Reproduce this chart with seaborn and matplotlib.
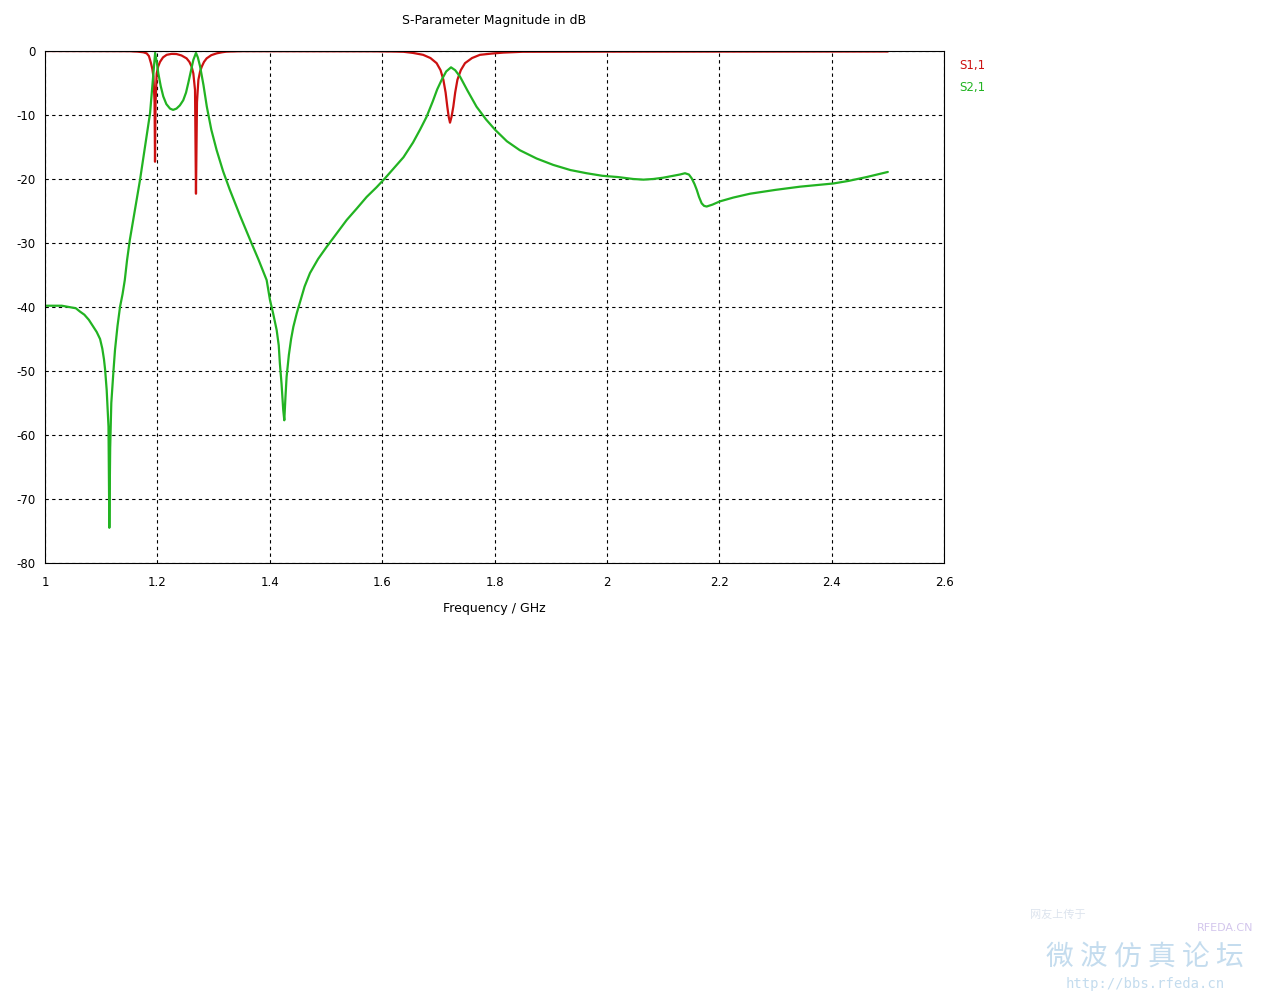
import numpy as np
import pandas as pd
import matplotlib
matplotlib.use("Agg")
import matplotlib.pyplot as plt
import seaborn as sns

# ---- data ----
s21_freq = [1.0, 1.03, 1.055, 1.062, 1.07, 1.078, 1.086, 1.092, 1.098, 1.102, 1.105, 1.107,
            1.1098, 1.113, 1.1145, 1.116, 1.118, 1.122, 1.1246, 1.129, 1.1335, 1.138, 1.142,
            1.146, 1.151, 1.16, 1.169, 1.178, 1.187, 1.193, 1.196, 1.199, 1.2017, 1.206,
            1.2105, 1.216, 1.2225, 1.228, 1.234, 1.240, 1.246, 1.251, 1.255, 1.26, 1.264,
            1.2687, 1.272, 1.276, 1.282, 1.288, 1.296, 1.3055, 1.317, 1.329, 1.347, 1.365,
            1.38, 1.3945, 1.4004, 1.406, 1.4123, 1.416, 1.418, 1.421, 1.424, 1.4259, 1.428,
            1.430, 1.434, 1.438, 1.442, 1.448, 1.454, 1.462, 1.4716, 1.486, 1.5013, 1.52,
            1.537, 1.555, 1.5725, 1.59, 1.605, 1.62, 1.638, 1.655, 1.668, 1.679, 1.69, 1.698,
            1.706, 1.714, 1.7226, 1.73, 1.7386, 1.752, 1.768, 1.785, 1.801, 1.822, 1.845,
            1.875, 1.9046, 1.935, 1.964, 1.992, 2.020, 2.047, 2.065, 2.0826, 2.10, 2.118,
            2.13, 2.139, 2.146, 2.151, 2.156, 2.160, 2.164, 2.1687, 2.173, 2.1776, 2.188,
            2.201, 2.225, 2.2547, 2.30, 2.3437, 2.403, 2.43, 2.462, 2.5]
s21_db = [-39.8, -39.8, -40.2, -40.7, -41.2, -42.0, -43.1, -43.9, -45.0, -46.5, -48.2, -49.8,
          -53.0, -58.7, -74.5, -62.0, -55.0, -49.8, -46.7, -43.0, -40.0, -38.0, -35.8,
          -32.7, -29.5, -24.8, -20.2, -15.0, -9.7, -3.5, -0.3, -1.8, -3.5, -5.5,
          -7.1, -8.3, -9.0, -9.2, -9.0, -8.5, -7.7, -6.5, -5.0, -3.0, -1.4,
          -0.3, -1.0, -2.4, -5.3, -8.7, -12.3, -15.5, -18.8, -21.7, -25.7, -29.5,
          -32.6, -35.8, -38.9, -41.0, -43.6, -46.0, -48.8, -52.0, -56.1, -57.7, -54.0,
          -50.9, -47.5, -45.0, -43.1, -41.0, -39.2, -36.8, -34.7, -32.5, -30.6, -28.4,
          -26.4, -24.6, -22.8, -21.3, -19.9, -18.4, -16.6, -14.3, -12.2, -10.3, -7.9, -6.0,
          -4.5, -3.2, -2.55, -3.0, -4.0, -6.2, -8.7, -10.7, -12.3, -14.1, -15.5,
          -16.8, -17.8, -18.6, -19.1, -19.5, -19.7, -20.0, -20.1, -20.0, -19.8, -19.5,
          -19.3, -19.1, -19.3, -19.9, -20.8, -21.7, -22.8, -23.8, -24.2, -24.3, -24.0,
          -23.5, -22.9, -22.3, -21.7, -21.2, -20.7, -20.3, -19.7, -18.9]

s11_freq = [1.0, 1.15, 1.165, 1.175, 1.181, 1.185, 1.1886, 1.191, 1.193, 1.195, 1.1958,
            1.1968, 1.1988, 1.2015, 1.2047, 1.21, 1.2165, 1.225, 1.234, 1.243, 1.252, 1.257,
            1.261, 1.264, 1.267, 1.2687, 1.2705, 1.273, 1.276, 1.279, 1.283, 1.2877, 1.296,
            1.3055, 1.315, 1.323, 1.35, 1.58, 1.62, 1.638, 1.655, 1.673, 1.686, 1.697, 1.704,
            1.709, 1.713, 1.716, 1.7185, 1.7208, 1.7235, 1.7267, 1.730, 1.734, 1.74, 1.7475,
            1.76, 1.774, 1.795, 1.8156, 1.85, 2.0, 2.5]
s11_db = [0.0, -0.03, -0.1, -0.2, -0.37, -0.8, -1.9, -2.8, -4.0, -8.0, -17.3,
          -8.0, -3.5, -2.4, -1.7, -1.0, -0.6, -0.45, -0.47, -0.7, -1.15, -1.7,
          -2.45, -3.5, -6.1, -22.3, -8.0, -4.5, -3.2, -2.45, -1.7, -1.15, -0.65,
          -0.37, -0.2, -0.1, -0.03, -0.05, -0.08, -0.12, -0.3, -0.6, -1.1, -1.9, -3.0,
          -4.5, -6.5, -8.7, -10.3, -11.2, -10.3, -8.7, -6.5, -4.5, -3.0, -1.9,
          -1.1, -0.6, -0.4, -0.25, -0.12, -0.1, -0.08]

series_names = ["S1,1", "S2,1"]
series_colors = ["#cc1111", "#22b322"]
x_ticks = [1, 1.2, 1.4, 1.6, 1.8, 2, 2.2, 2.4, 2.6]
x_tick_labels = ["1", "1.2", "1.4", "1.6", "1.8", "2", "2.2", "2.4", "2.6"]
y_ticks = [0, -10, -20, -30, -40, -50, -60, -70, -80]

df = pd.concat([
    pd.DataFrame({"freq": s11_freq, "db": s11_db, "param": series_names[0]}),
    pd.DataFrame({"freq": s21_freq, "db": s21_db, "param": series_names[1]}),
], ignore_index=True)

sns.set_theme(style="white")
plt.rcParams["font.family"] = ["DejaVu Sans"]
plt.rcParams["axes.unicode_minus"] = False

fig = plt.figure(figsize=(12.8, 9.98), dpi=100)
ax = fig.add_axes([45 / 1280, 1 - 563 / 998, 899 / 1280, 512 / 998])

sns.lineplot(data=df, x="freq", y="db", hue="param", hue_order=series_names,
             palette=series_colors, estimator=None, sort=False, linewidth=1.6,
             legend=False, ax=ax)
for ln in ax.get_lines():
    ln.set_solid_joinstyle("round")

ax.set_xlim(1.0, 2.6)
ax.set_ylim(-80, 0)
ax.set_xticks(x_ticks)
ax.set_xticklabels(x_tick_labels)
ax.set_yticks(y_ticks)
ax.set_yticklabels([str(v) for v in y_ticks])
ax.tick_params(axis="both", direction="out", length=4, width=0.8, color="black",
               labelsize=8.5, labelcolor="black", pad=3)
ax.tick_params(axis="x", pad=5)
ax.grid(True, color="black", linestyle=(0, (3, 3)), linewidth=0.8)
for s in ax.spines.values():
    s.set_color("black")
    s.set_linewidth(0.8)
ax.set_xlabel("Frequency / GHz", fontsize=9, color="black", labelpad=10)
ax.set_ylabel("")
ax.set_title("S-Parameter Magnitude in dB", fontsize=9, color="black", pad=19.5)

# legend as colored text
fig.text(959 / 1280, 1 - 66 / 998, series_names[0], color=series_colors[0], fontsize=8.5,
         ha="left", va="center")
fig.text(959 / 1280, 1 - 88 / 998, series_names[1], color=series_colors[1], fontsize=8.5,
         ha="left", va="center")

# faint watermark
fig.text(1197 / 1280, 1 - 928 / 998, "RFEDA.CN", color="#c8b8e8", fontsize=8, ha="left",
         va="center", alpha=0.8)
fig.text(1030 / 1280, 1 - 915 / 998, "网友上传于", color="#dde4ee", fontsize=8,
         ha="left", va="center", family=["Noto Sans CJK SC", "DejaVu Sans"])
fig.text(1145 / 1280, 1 - 958 / 998, "微 波 仿 真 论 坛", color="#c4dcee", fontsize=20,
         ha="center", va="center", family=["Noto Sans CJK SC", "DejaVu Sans"])
fig.text(1145 / 1280, 1 - 984 / 998, "http://bbs.rfeda.cn", color="#c4dcee", fontsize=10,
         ha="center", va="center", family=["DejaVu Sans Mono"])

fig.savefig("out.png", dpi=100, facecolor="white")
